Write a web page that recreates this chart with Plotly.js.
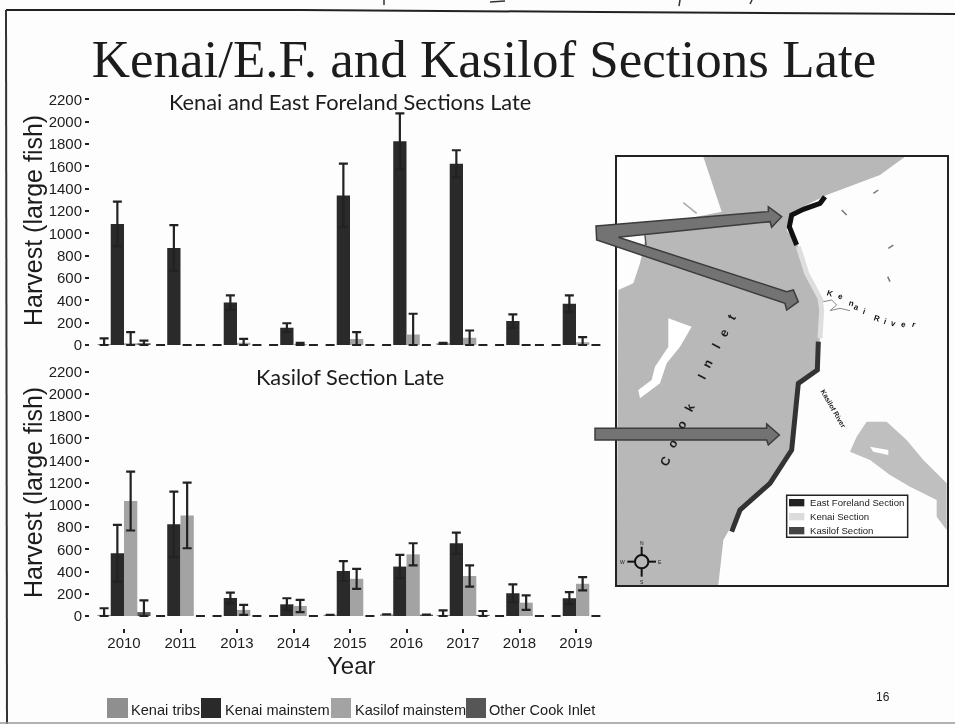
<!DOCTYPE html>
<html>
<head>
<meta charset="utf-8">
<script src="https://cdn.plot.ly/plotly-3.0.1.min.js"></script>
<style>
html,body{margin:0;padding:0;background:#fdfdfd}
#chart{width:955px;height:724px;filter:blur(0.6px)}
</style>
</head>
<body>
<div id="chart"></div>
<script>
// ---------- chart data ----------
const years = ['2010','2011','2013','2014','2015','2016','2017','2018','2019'];
const seriesNames = ['Kenai tribs','Kenai mainstem','Kasilof mainstem','Other Cook Inlet'];
const seriesColors = ['#8f8f8f','#2a2a2a','#a3a3a3','#565656'];

const topTribs      = [10,0,0,0,0,0,15,0,0];
const topTribsErr   = [50,0,0,0,0,0,5,0,0];
const topMain       = [1085,870,380,155,1340,1825,1625,215,370];
const topMainErr    = [200,205,65,40,285,250,120,60,75];
const topKasilof    = [15,0,20,10,55,95,65,0,25];
const topKasilofErr = [100,0,35,10,60,185,65,0,45];
const topOther      = [15,0,0,0,0,0,0,0,0];
const topOtherErr   = [25,0,0,0,0,0,0,0,0];

const botTribs      = [10,0,0,0,10,15,8,0,0];
const botTribsErr   = [60,0,0,0,0,0,42,0,0];
const botMain       = [565,825,162,105,405,445,655,205,160];
const botMainErr    = [255,295,48,55,90,105,95,80,55];
const botKasilof    = [1035,905,55,90,335,555,360,120,290];
const botKasilofErr = [265,295,45,55,90,100,95,65,60];
const botOther      = [35,0,0,0,0,12,10,0,0];
const botOtherErr   = [105,0,0,0,0,0,35,0,0];

const yTicks = [0,200,400,600,800,1000,1200,1400,1600,1800,2000,2200];
const mainTitle = 'Kenai/E.F. and Kasilof Sections Late';
const topTitle = 'Kenai and East Foreland Sections Late';
const botTitle = 'Kasilof Section Late';
const yTitle = 'Harvest (large fish)';
const xTitle = 'Year';
const pageNumber = '16';

// ---------- helpers ----------
const W = 955, H = 724;
const px = x => x / W;
const py = y => 1 - y / H;
// map artwork was read in a 3x crop whose origin is (590,150)
const mx = z => 590 + z / 3;
const my = z => 150 + z / 3;
function pathOf(pts, close) {
  return pts.map((p, i) => (i ? 'L' : 'M') + px(p[0]).toFixed(5) + ' ' + py(p[1]).toFixed(5)).join(' ') + (close ? ' Z' : '');
}
const mapPts = pts => pts.map(p => [mx(p[0]), my(p[1])]);
function poly(pts, fill, line, lw) {
  return {type:'path', xref:'paper', yref:'paper', path:pathOf(pts,true), fillcolor:fill,
          line:{color:line||fill, width:lw===undefined?0:lw}, layer:'above'};
}
function stroke(pts, color, lw) {
  return {type:'path', xref:'paper', yref:'paper', path:pathOf(pts,false), fillcolor:'rgba(0,0,0,0)',
          line:{color:color, width:lw}, layer:'above'};
}
const sansFont = 'Liberation Sans, Arial, sans-serif';
function label(text, x, y, size, opts) {
  return Object.assign({xref:'paper', yref:'paper', x:px(x), y:py(y), text:text, showarrow:false,
    xanchor:'center', yanchor:'middle', font:{family:sansFont, size:size, color:'#1c1c1c'}}, opts||{});
}

// ---------- traces ----------
function barTrace(i, vals, errs, xa, ya) {
  return {type:'bar', name:seriesNames[i], x:years, y:vals, xaxis:xa, yaxis:ya, showlegend:false,
    marker:{color:seriesColors[i]},
    error_y:{type:'data', symmetric:false, array:errs, arrayminus:errs.map((e,k)=>Math.min(e,vals[k])),
             color:'#222', thickness:2.2, width:4.5, visible:true}};
}
const traces = [
  barTrace(0, topTribs, topTribsErr, 'x', 'y'),
  barTrace(1, topMain, topMainErr, 'x', 'y'),
  barTrace(2, topKasilof, topKasilofErr, 'x', 'y'),
  barTrace(3, topOther, topOtherErr, 'x', 'y'),
  barTrace(0, botTribs, botTribsErr, 'x2', 'y2'),
  barTrace(1, botMain, botMainErr, 'x2', 'y2'),
  barTrace(2, botKasilof, botKasilofErr, 'x2', 'y2'),
  barTrace(3, botOther, botOtherErr, 'x2', 'y2')
];

// ---------- decoration: slide frame, map, legend ----------
const shapes = [];
// slide frame and the cut-off handwriting at the top edge
shapes.push(stroke([[6,10],[300,10],[600,12],[955,14]], '#222', 2));
shapes.push(stroke([[6,10],[7,724]], '#333', 2));
shapes.push(stroke([[0,723],[955,723]], '#999', 1.5));
[[384,0,384,5],[490,2,505,1],[680,0,679,6],[752,0,750,4]].forEach(s => shapes.push(stroke([[s[0],s[1]],[s[2],s[3]]],'#333',1.5)));

// map
const landWater = [[340,20],[945,20],[870,75],[710,135],[600,190],[590,240],[625,290],[650,370],[700,450],[690,560],[680,660],[620,700],[610,800],[600,900],[540,1000],[440,1100],[400,1170],[385,1305],[80,1305],[85,420],[130,400],[150,340],[170,250],[320,200],[395,185]];
shapes.push(poly(mapPts(landWater), '#b8b8b8'));
shapes.push(poly(mapPts([[235,505],[305,530],[270,590],[230,640],[210,700],[150,745],[145,720],[185,690],[195,650],[235,590],[235,530]]), '#ffffff'));
shapes.push(poly(mapPts([[780,905],[800,860],[830,815],[890,815],[950,870],[1000,930],[1070,1000],[1070,1140],[1040,1100],[1040,1050],[960,1010],[900,975],[840,930]]), '#bfbfbf'));
shapes.push(poly(mapPts([[840,890],[895,900],[895,915],[850,905]]), '#ffffff'));
shapes.push(stroke(mapPts([[705,140],[690,160],[640,178],[605,195],[598,230],[620,285]]), '#111', 5));
shapes.push(stroke(mapPts([[625,290],[650,370],[690,445],[695,480],[690,565]]), '#dedede', 5));
shapes.push(stroke(mapPts([[685,575],[682,660],[625,700],[615,800],[605,900],[540,1000],[450,1080],[425,1145]]), '#333', 5));
shapes.push(stroke(mapPts([[700,455],[725,450],[740,465],[720,482],[750,475],[780,482]]), '#888', 1));
shapes.push(stroke(mapPts([[165,255],[168,285]]), '#555', 1.5));
shapes.push(stroke(mapPts([[280,158],[320,190]]), '#aaa', 1.5));
[[[755,180],[770,195]],[[850,130],[865,120]],[[895,295],[910,285]],[[893,380],[900,395]]].forEach(s => shapes.push(stroke(mapPts(s), '#777', 1.5)));
shapes.push({type:'rect', xref:'paper', yref:'paper', x0:px(616), x1:px(948), y0:py(156), y1:py(586),
             line:{color:'#222', width:2}, fillcolor:'rgba(0,0,0,0)', layer:'above'});
// arrows
shapes.push(poly(mapPts([[18,228],[535,185],[535,170],[575,200],[545,232],[540,215],[85,262],[590,425],[610,420],[625,455],[590,480],[585,460],[20,270]]), '#737373', '#3c3c3c', 1.5));
shapes.push(poly(mapPts([[15,835],[530,835],[530,822],[568,855],[535,885],[530,870],[15,870]]), '#737373', '#3c3c3c', 1.5));
// compass
shapes.push({type:'circle', xref:'paper', yref:'paper', x0:px(mx(135)), x1:px(mx(175)), y0:py(my(1215)), y1:py(my(1255)),
             line:{color:'#111', width:2}, fillcolor:'rgba(255,255,255,0)', layer:'above'});
shapes.push(stroke(mapPts([[112,1235],[135,1235]]), '#111', 2));
shapes.push(stroke(mapPts([[175,1235],[198,1235]]), '#111', 2));
shapes.push(stroke(mapPts([[155,1190],[155,1215]]), '#111', 2));
shapes.push(stroke(mapPts([[155,1255],[155,1280]]), '#111', 2));
// map legend
shapes.push({type:'rect', xref:'paper', yref:'paper', x0:px(mx(590)), x1:px(mx(953)), y0:py(my(1036)), y1:py(my(1162)),
             line:{color:'#222', width:1.5}, fillcolor:'#ffffff', layer:'above'});
const mapLegend = [['East Foreland Section','#222',1058],['Kenai Section','#dcdcdc',1100],['Kasilof Section','#444',1142]];
mapLegend.forEach(r => shapes.push({type:'rect', xref:'paper', yref:'paper', x0:px(mx(597)), x1:px(mx(643)),
  y0:py(my(r[2]-11)), y1:py(my(r[2]+11)), line:{width:0}, fillcolor:r[1], layer:'above'}));

// chart legend swatches
const swatchX = [[107,128],[201,221],[331,351],[466,486]];
const legendTextX = [129,223,353,487];
seriesNames.forEach((n,i) => shapes.push({type:'rect', xref:'paper', yref:'paper',
  x0:px(swatchX[i][0]), x1:px(swatchX[i][1]), y0:py(698), y1:py(718),
  line:{width:0}, fillcolor:seriesColors[i], layer:'above'}));

// ---------- annotations ----------
const subFont = {family:'Lato, sans-serif', size:21.8, color:'#1c1c1c'};
const ann = [
  label(topTitle, 350, 101, 21.8, {font:subFont}),
  label(botTitle, 350, 376, 21.8, {font:subFont}),
  label(pageNumber, 883, 697, 12),
  label(yTitle, 33, 221, 25, {textangle:-90}),
  label(yTitle, 33, 493, 25, {textangle:-90}),
  label(xTitle, 351, 665, 24)
];
seriesNames.forEach((n,i) => ann.push(label(n, legendTextX[i], 710, 14.6, {xanchor:'left'})));
mapLegend.forEach(r => ann.push(label(r[0], mx(655), my(r[2]), 9.6, {xanchor:'left',
  font:{family:sansFont, size:9.6, color:'#222'}})));
const cookLetters = [['C',225,935],['o',250,880],['o',275,825],['k',300,775],['I',335,680],['n',355,640],['l',378,590],['e',403,550],['t',425,500]];
cookLetters.forEach(c => ann.push(label('<b>'+c[0]+'</b>', mx(c[1]), my(c[2]), 12.5, {textangle:-62})));
const kenaiLetters = [['K',720,430],['e',750,440],['n',785,460],['a',800,472],['i',822,485],['R',860,505],['i',885,515],['v',910,520],['e',940,525],['r',970,525]];
kenaiLetters.forEach(c => ann.push(label('<b>'+c[0]+'</b>', mx(c[1]), my(c[2]), 8, {textangle:18,
  font:{family:sansFont, size:8, color:'#111'}})));
ann.push(label('<b>Kasilof River</b>', mx(730), my(775), 7, {textangle:60}));
[['N',155,1178],['S',155,1297],['W',97,1235],['E',210,1235]].forEach(c => ann.push(label(c[0], mx(c[1]), my(c[2]), 5)));

// ---------- layout ----------
const xDomain = [px(90), px(606)];
const xRange = [-0.602, 8.531];
const tickFont = {family:sansFont, size:15, color:'#1c1c1c'};
function yAxis(domainTop, domainBot, lo, hi, anchor) {
  return {domain:[py(domainBot), py(domainTop)], range:[lo,hi], anchor:anchor, tickmode:'array', tickvals:yTicks,
    ticktext:yTicks.map(String), ticks:'outside', ticklen:4, tickwidth:2, tickcolor:'#222', showgrid:false,
    zeroline:false, showline:false, tickfont:tickFont};
}
const layout = {
  width:W, height:H, margin:{l:0,r:0,t:0,b:0}, autosize:false,
  paper_bgcolor:'#fdfdfd', plot_bgcolor:'rgba(0,0,0,0)',
  barmode:'group', bargap:0.06, bargroupgap:0, showlegend:false,
  title:{text:mainTitle, x:px(484), xanchor:'center', xref:'paper', y:py(58), yanchor:'middle', yref:'paper',
         font:{family:'Liberation Serif, Times New Roman, serif', size:53, color:'#1c1c1c'}},
  xaxis:{domain:xDomain, range:xRange, type:'category', categoryorder:'array', categoryarray:years, anchor:'y',
         showticklabels:false, ticks:'', showgrid:false, zeroline:false, showline:false},
  xaxis2:{domain:xDomain, range:xRange, type:'category', categoryorder:'array', categoryarray:years, anchor:'y2',
         ticks:'outside', ticklen:4, tickwidth:2, tickcolor:'#222', showgrid:false, zeroline:false, showline:false,
         ticklabelstandoff:-3, tickfont:tickFont},
  yaxis:yAxis(93.9, 350.6, -50, 2250, 'x'),
  yaxis2:yAxis(366.1, 628, -108, 2250, 'x2'),
  shapes:shapes, annotations:ann
};
Plotly.newPlot('chart', traces, layout, {displayModeBar:false, staticPlot:true});
</script>
</body>
</html>
